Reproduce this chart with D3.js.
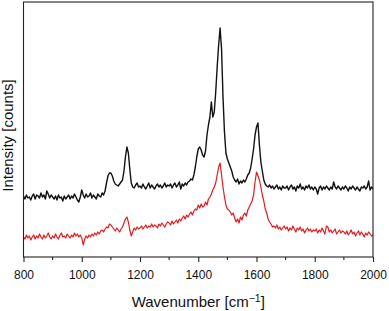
<!DOCTYPE html>
<html>
<head>
<meta charset="utf-8">
<script src="https://cdn.jsdelivr.net/npm/d3@7"></script>
<style>
  body { margin: 0; background: #fff; }
  text { font-family: "Liberation Sans", Arial, sans-serif; }
</style>
</head>
<body>
<div id="chart"></div>
<script>
// wavenumber grid, 800..2000 every 5 cm-1
var wavenumbers = d3.range(800, 2001, 5);
var xTicks = [800, 1000, 1200, 1400, 1600, 1800, 2000];
var xMinorTicks = [900, 1100, 1300, 1500, 1700, 1900];

// upper spectrum (black), arbitrary counts
var blackCounts = [
  61,58,62,59,60,57,61,63,58,62,61,59,64,60,62,58,66,63,59,62,
  60,58,61,57,62,59,60,56,61,58,60,62,58,61,59,63,60,57,55,60,
  67,62,59,63,60,61,64,59,62,60,58,63,61,60,64,62,66,74,81,84,
  84,81,76,73,72,71,73,75,77,86,100,110,104,88,74,70,69,72,74,70,
  71,69,73,70,68,71,74,69,72,70,68,71,73,70,72,69,71,74,70,72,
  71,73,69,72,74,70,72,75,68,73,71,74,72,75,76,78,77,82,90,100,
  108,110,107,102,100,106,122,132,140,155,140,145,165,190,212,229,208,160,125,104,
  98,94,90,86,80,77,75,78,73,76,74,77,75,78,82,84,89,98,108,122,
  130,134,112,95,86,77,73,71,70,72,69,71,68,70,72,68,70,67,71,69,
  69,71,67,70,72,68,70,66,71,69,73,68,70,67,71,69,72,68,70,67,
  70,68,63,69,71,67,70,68,71,69,67,70,68,75,70,68,71,69,67,70,
  68,71,69,66,70,68,71,69,67,70,68,66,70,69,71,68,70,76,67,70,
  68
];

// lower spectrum (red)
var redCounts = [
  20,18,22,19,21,17,20,22,18,21,19,23,20,18,22,19,21,24,20,18,
  21,19,23,20,18,22,24,20,21,19,23,21,19,22,20,24,21,23,20,22,
  19,12,18,21,19,22,20,23,21,24,22,25,23,26,27,25,28,30,29,33,
  32,30,28,26,29,27,25,28,30,34,38,40,35,27,21,25,29,27,30,28,
  29,31,28,30,32,29,31,30,33,30,32,31,29,33,31,34,32,30,33,35,
  34,32,36,33,35,37,34,38,36,39,41,38,42,40,43,45,42,46,48,47,
  52,49,53,50,51,55,52,58,60,63,67,70,74,82,90,94,82,70,60,52,
  48,47,45,42,44,39,35,38,34,40,37,42,44,41,47,50,53,56,62,75,
  85,81,77,70,62,56,48,44,38,35,33,30,31,29,32,28,30,27,29,31,
  28,30,26,29,27,31,28,25,29,27,30,26,28,24,27,29,26,28,25,27,
  26,28,24,27,25,29,26,23,31,30,25,27,24,26,28,23,25,27,24,26,
  25,23,26,22,24,27,23,25,21,24,26,22,25,23,20,24,22,25,23,21,
  22
];

var series = [
  { name: "upper", color: "#111111", width: 1.4, values: blackCounts },
  { name: "lower", color: "#e8181c", width: 1.2, values: redCounts }
];

var outerWidth = 389, outerHeight = 311;
var margin = {top: 2, right: 16, bottom: 54, left: 23.5};
var width = outerWidth - margin.left - margin.right,
    height = outerHeight - margin.top - margin.bottom;

var svg = d3.select("#chart")
    .append("svg")
    .attr("width", outerWidth)
    .attr("height", outerHeight);

var g = svg.append("g")
    .attr("transform", "translate(" + margin.left + "," + margin.top + ")");

var x = d3.scaleLinear().domain([800, 2000]).range([0, width]);
var y = d3.scaleLinear().domain([0, 255]).range([height, 0]);

var line = d3.line()
    .x(function(d, i) { return x(wavenumbers[i]); })
    .y(function(d) { return y(d); });

g.selectAll(".spectrum")
    .data(series)
    .enter()
    .append("path")
    .attr("class", "spectrum")
    .attr("fill", "none")
    .attr("stroke", function(d) { return d.color; })
    .attr("stroke-width", function(d) { return d.width; })
    .attr("stroke-linejoin", "round")
    .attr("d", function(d) { return line(d.values); });

// frame
g.append("rect")
    .attr("width", width)
    .attr("height", height)
    .attr("fill", "none")
    .attr("stroke", "#222")
    .attr("stroke-width", 1.1);

// bottom axis: major ticks with labels, minor ticks in between
var xAxis = g.append("g")
    .attr("transform", "translate(0," + height + ")")
    .call(d3.axisBottom(x).tickValues(xTicks).tickSize(5).tickPadding(8).tickFormat(d3.format("d")));
xAxis.select(".domain").remove();
xAxis.selectAll("line").attr("stroke", "#222").attr("stroke-width", 1.1);
xAxis.selectAll("text").attr("font-size", 12).attr("fill", "#111")
    .style("font-family", "'Liberation Sans', Arial, sans-serif");

g.append("g")
    .attr("transform", "translate(0," + height + ")")
    .selectAll("line")
    .data(xMinorTicks)
    .enter()
    .append("line")
    .attr("x1", function(d) { return x(d); })
    .attr("x2", function(d) { return x(d); })
    .attr("y1", 0)
    .attr("y2", 3)
    .attr("stroke", "#222")
    .attr("stroke-width", 1.1);

// axis titles
var xTitle = svg.append("text")
    .attr("x", margin.left + width / 2)
    .attr("y", 307)
    .attr("text-anchor", "middle")
    .attr("font-size", 15)
    .attr("fill", "#111");
xTitle.append("tspan").text("Wavenumber [cm");
xTitle.append("tspan").attr("dy", -5).attr("font-size", 10.5).text("\u22121");
xTitle.append("tspan").attr("dy", 5).text("]");

svg.append("text")
    .attr("transform", "translate(13," + (margin.top + height / 2 + 6) + ") rotate(-90)")
    .attr("text-anchor", "middle")
    .attr("font-size", 15)
    .attr("fill", "#111")
    .text("Intensity [counts]");
</script>
</body>
</html>
